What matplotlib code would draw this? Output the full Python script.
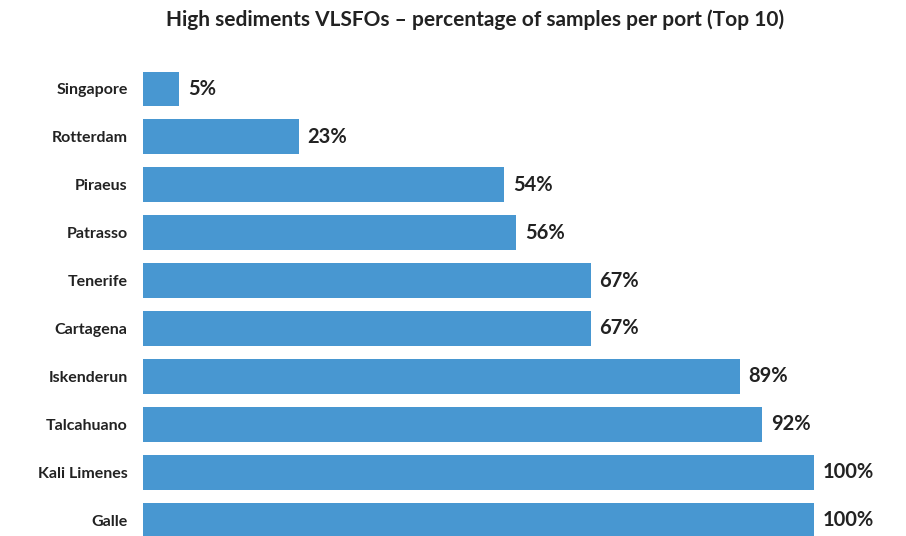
import matplotlib
matplotlib.use("Agg")
import matplotlib.pyplot as plt

ports = ["Singapore", "Rotterdam", "Piraeus", "Patrasso", "Tenerife",
         "Cartagena", "Iskenderun", "Talcahuano", "Kali Limenes", "Galle"]
values = [5.4, 23.2, 53.8, 55.6, 66.7, 66.7, 88.9, 92.3, 100, 100]
title = "High sediments VLSFOs – percentage of samples per port (Top 10)"

plt.rcParams['font.family'] = ['Lato', 'DejaVu Sans']
bar_color = "#4897D1"
text_color = "#222222"

fig = plt.figure(figsize=(9.06, 5.36), dpi=100)
ax = fig.add_axes([143/906, 0, 671/906, (536-60)/536])
ypos = list(range(len(ports)))
ax.barh(ypos, values, height=0.73, color=bar_color)
ax.set_xlim(0, 100)
ax.set_ylim(9 + 16/47.9, -29/47.9)
ax.set_yticks(ypos)
ax.set_yticklabels(ports, fontsize=11.5, fontweight='bold', color=text_color)
ax.tick_params(axis='y', length=0, pad=11)
ax.set_xticks([])
for s in ax.spines.values():
    s.set_visible(False)
for y, v in zip(ypos, values):
    ax.text(v + 1.3, y, f"{v:.0f}%", va='center', ha='left', fontsize=14.5,
            fontweight='bold', color=text_color)
fig.text(475/906, 1 - 20/536, title, ha='center', va='center', fontsize=15,
         fontweight='bold', color=text_color)
fig.savefig("out.png", dpi=100, facecolor='white')
